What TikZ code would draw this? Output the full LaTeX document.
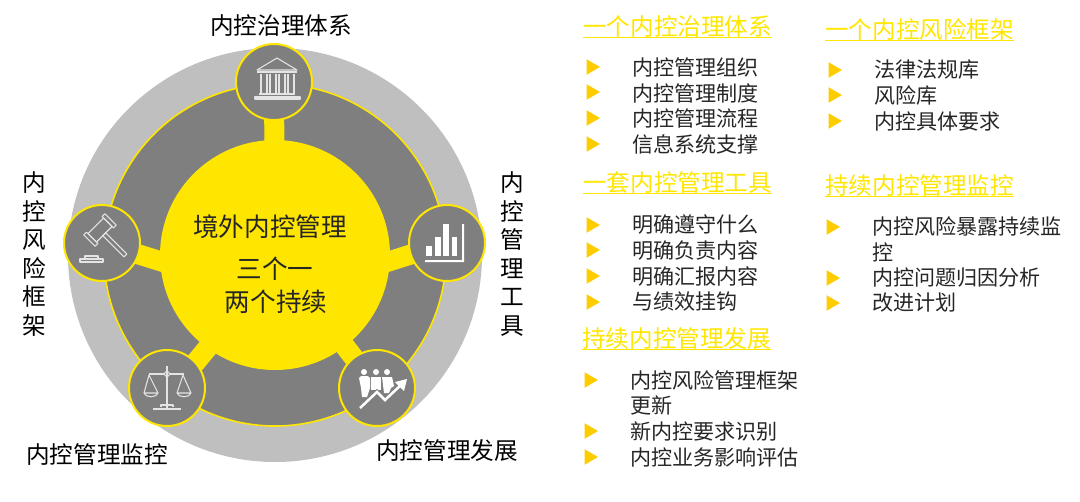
\documentclass[tikz,border=0pt]{standalone}
\usepackage{fontspec}
\setmainfont{Noto Sans CJK SC}
\usetikzlibrary{shapes.geometric}
\definecolor{eyyellow}{HTML}{FFE600}
\definecolor{bulletyellow}{HTML}{FFCC00}
\definecolor{darkgrey}{HTML}{7F7F7F}
\definecolor{lightgrey}{HTML}{BFBFBF}
\definecolor{icongrey}{HTML}{E4E4E4}
\definecolor{textgrey}{HTML}{262626}
\pgfdeclarelayer{back}
\pgfdeclarelayer{bars}
\pgfsetlayers{back,bars,main}
\tikzset{
  disc/.style={circle,inner sep=0pt},
  badge/.style={disc,draw=eyyellow,line width=1.5pt,fill=darkgrey,minimum size=57pt},
  spoke/.style={draw=eyyellow,line width=15pt,shorten <=-3pt,shorten >=-3pt},
  caption/.style={text=black,inner sep=0pt,align=center,font=\fontsize{17.7}{21.45}\selectfont},
  hubtext/.style={text=textgrey,inner sep=0pt,font=\fontsize{19.2}{23}\selectfont},
  heading/.style={text=eyyellow,anchor=west,inner sep=0pt,text height=12pt,text depth=1.5pt,font=\fontsize{17.7}{21}\selectfont},
  headrule/.style={draw=eyyellow,line width=.7pt},
  item/.style={text=textgrey,anchor=west,inner sep=0pt,align=left,font=\fontsize{15.8}{19.2}\selectfont},
  bullet/.style={fill=bulletyellow,regular polygon,regular polygon sides=3,shape border rotate=-90,minimum size=13.5pt,inner sep=0pt},
  iconline/.style={draw=icongrey,line width=.8pt,line join=round},
  iconfill/.style={fill=white,draw=none}
}
\begin{document}
\begin{tikzpicture}[x=.75pt,y=-.75pt]
  \useasboundingbox (0,0) rectangle (1080,501);

  % rings
  \begin{pgfonlayer}{back}
    \node[disc,fill=lightgrey,minimum size=310.5pt] (outer) at (275,255) {};
    \node[disc,fill=darkgrey,draw=eyyellow,line width=1.2pt,minimum size=256.5pt] (ring) at (275,255) {};
  \end{pgfonlayer}

  \node[disc,fill=eyyellow,minimum size=172.5pt] (hub) at (275,255) {};

  \begin{scope}[every node/.style={badge}]
    \node (gov)  at (274,82)  {};
    \node (risk) at (102,243) {};
    \node (tool) at (447,243) {};
    \node (mon)  at (167,388) {};
    \node (dev)  at (377,388) {};
  \end{scope}

  \begin{pgfonlayer}{bars}
    \path[spoke] (hub) -- (gov);
    \path[spoke] (hub.183) -- (risk);
    \path[spoke] (hub.-3) -- (tool);
    \path[spoke] (hub.234) -- (mon.42);
    \path[spoke] (hub) -- (dev);
  \end{pgfonlayer}

  % bank
  \begin{scope}[iconline]
    \draw (277,58) -- (257,70) -- (297,70) -- cycle;
    \draw (257,72) -- (297,72);
    \foreach \x in {261,270,279,288} {
      \draw (\x,74) -- (\x,94);
      \draw (\x+6,74) -- (\x+6,94);
    }
    \draw (259,94) -- (295,94);
    \draw (255,97) rectangle (300,99);
  \end{scope}

  % gavel
  \begin{scope}[iconline,shift={(100,230)},rotate=45]
    \draw (-11,-6) rectangle (11,6);
    \draw (-15,-8) rectangle (-11,8);
    \draw (11,-8) rectangle (15,8);
    \draw (-2,6) rectangle (2,36);
  \end{scope}
  \draw[iconline] (85,256) rectangle (98,259);
  \draw[iconline] (80,259) rectangle (103,262);

  % scales
  \begin{scope}[iconline]
    \draw (167,366) -- (167,408);
    \draw (149,374) -- (164.5,374);
    \draw (169.5,374) -- (184,374);
    \draw (167,374) circle[radius=2.5];
    \draw (144,393) -- (149,375) -- (158,393);
    \draw (177,393) -- (183,375) -- (191,393);
    \draw (144,393) -- (158,393) .. controls (156,398) and (146,398) .. (144,393);
    \draw (177,393) -- (191,393) .. controls (189,398) and (179,398) .. (177,393);
    \draw (161,407) -- (161,405) -- (173,405) -- (173,407);
    \draw (153,409) -- (181,409);
  \end{scope}

  % bars
  \begin{scope}[iconfill]
    \fill (426,246) rectangle (432,256);
    \fill (435,237) rectangle (441,256);
    \fill (443,224) rectangle (449,256);
    \fill (452,237) rectangle (457,256);
    \fill (425,260) -- (462,260) -- (462,224) -- (464,224) -- (464,262) -- (425,262) -- cycle;
  \end{scope}

  % people and arrow
  \begin{scope}[iconfill]
    \foreach \x in {364,376,387} \fill[white] (\x,372) circle[radius=3];
    \fill[white] (359,378) -- (361,376) -- (368,376) -- (370,378) -- (370,388) -- (367,397) -- (362,397) -- (361,388) -- cycle;
    \fill[white] (371,377) rectangle (381,390);
    \fill[white] (382,377) -- (392,377) -- (394,386) -- (391,388) -- (389,393) -- (384,393) -- cycle;
  \end{scope}
  \draw[darkgrey,line width=3.4pt] (360,408) -- (377,392) -- (385,400) -- (402,384);
  \draw[white,line width=1.9pt] (360,408) -- (377,392) -- (385,400) -- (402,384);
  \fill[white] (407,379) -- (404,391) -- (395,382) -- cycle;

  % outside captions
  \begin{scope}[every node/.style={caption}]
    \node (govlabel)  at (281,26)  {内控治理体系};
    \node (monlabel)  at (97,454)  {内控管理监控};
    \node (devlabel)  at (447,451) {内控管理发展};
    \node (risklabel) at (34,254)  {内\\控\\风\\险\\框\\架};
    \node (toollabel) at (512,254) {内\\控\\管\\理\\工\\具};
  \end{scope}

  \begin{scope}[every node/.style={hubtext}]
    \node (hubtitle) at (270,227) {境外内控管理};
    \node (hubthree) at (275,269) {三个一};
    \node (hubtwo)   at (276,302) {两个持续};
  \end{scope}

  % text columns
  \begin{scope}[every node/.style={heading}]
    \node (head1) at (583,28)  {一个内控治理体系};
    \node (head2) at (583,184) {一套内控管理工具};
    \node (head3) at (582,340) {持续内控管理发展};
    \node (head4) at (825,31)  {一个内控风险框架};
    \node (head5) at (825,187) {持续内控管理监控};
  \end{scope}
  \foreach \n in {head1,head2,head3,head4,head5}
    \draw[headrule] (\n.south west) -- (\n.south east);

  \begin{scope}[every node/.style={item}]
    \node (a1) at (632,67)  {内控管理组织};
    \node (a2) at (632,93)  {内控管理制度};
    \node (a3) at (632,118) {内控管理流程};
    \node (a4) at (632,144) {信息系统支撑};
    \node (b1) at (632,225) {明确遵守什么};
    \node (b2) at (632,250) {明确负责内容};
    \node (b3) at (632,276) {明确汇报内容};
    \node (b4) at (632,302) {与绩效挂钩};
    \node (c1) at (630,393) {内控风险管理框架\\更新};
    \node (c2) at (630,431) {新内控要求识别};
    \node (c3) at (630,457) {内控业务影响评估};
    \node (d1) at (874,70)  {法律法规库};
    \node (d2) at (874,95)  {风险库};
    \node (d3) at (874,121) {内控具体要求};
    \node (e1) at (872,239.5) {内控风险暴露持续监\\控};
    \node (e2) at (872,278) {内控问题归因分析};
    \node (e3) at (872,303) {改进计划};
  \end{scope}

  \foreach \x/\y in {591/67,591/92,591/118,591/144,591/225,591/250,591/276,591/302,
                     589/380,589/431,589/457,833/70,833/95,833/121,831/227,831/278,831/303}
    \node[bullet] at (\x,\y) {};
\end{tikzpicture}
\end{document}
